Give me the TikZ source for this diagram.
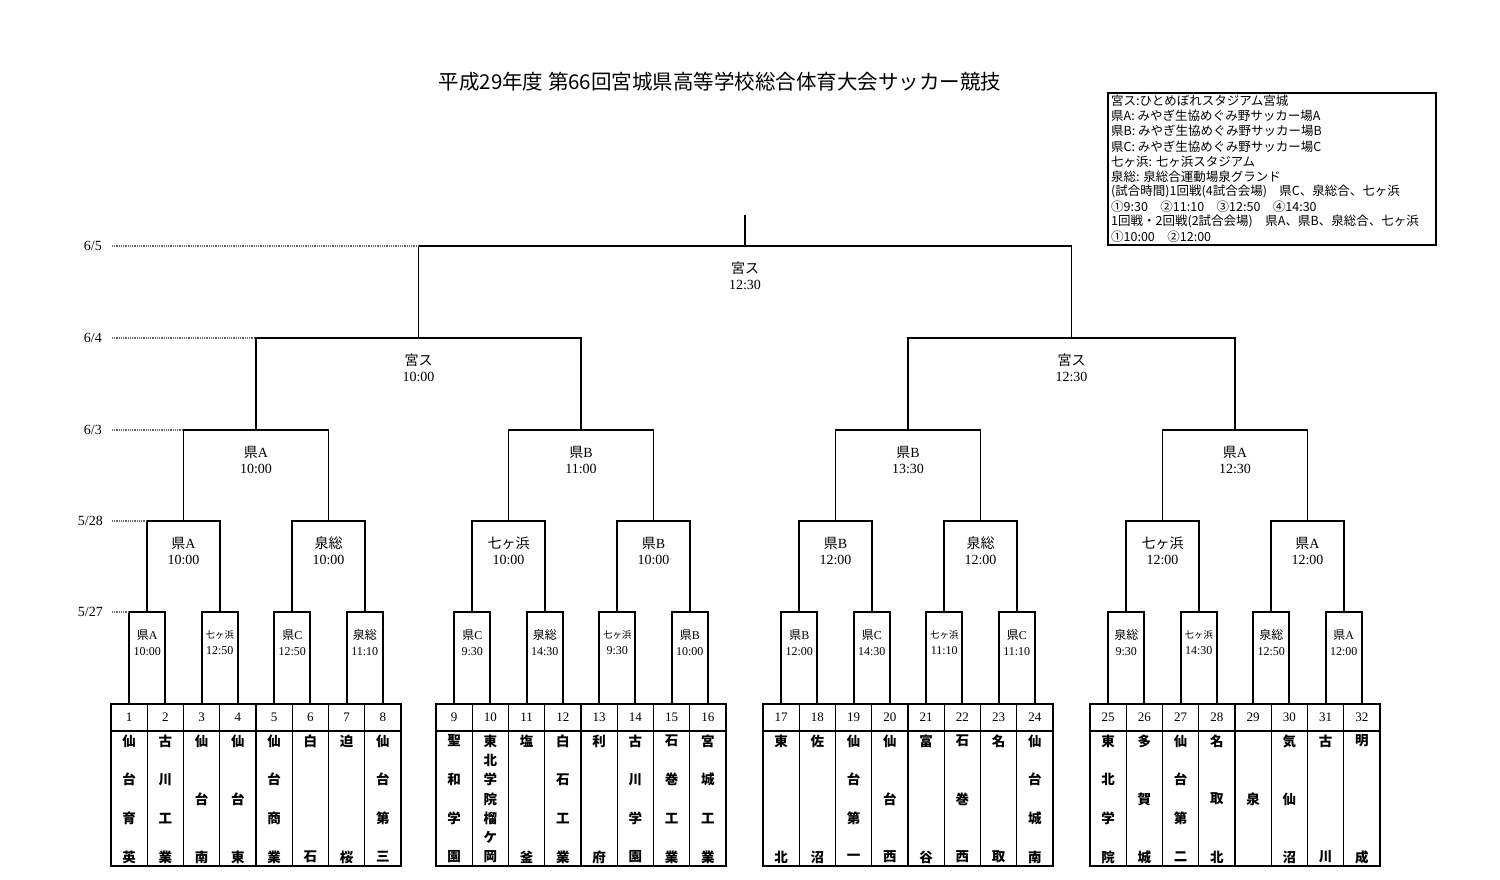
\documentclass[tikz,border=0pt]{standalone}
\usepackage{fontspec}
\usetikzlibrary{calc}
\setmainfont{Liberation Serif}
\newfontfamily\jp{Noto Sans CJK JP}
\newcommand\KA{{\jp 県}A}
\newcommand\KB{{\jp 県}B}
\newcommand\KC{{\jp 県}C}
\newcommand\IZ{{\jp 泉総}}
\newcommand\SHn{{\jp 七ヶ浜}}
\newcommand\SHs{{\jp\fontsize{9.5}{11}\selectfont 七ヶ浜}}
\newcommand\MS{{\jp 宮ス}}
\newcommand\teamcol[3]{%
  \pgfmathtruncatemacro\tg{(#1-1)/8}%
  \pgfmathtruncatemacro\tk{mod(#1-1,8)}%
  \pgfmathsetmacro\tx{{111,436,763,1090}[\tg]+(\tk+0.5)*36.25}%
  \coordinate (tt#1) at (\tx,704);
  \node[num] (n#1) at (\tx,717.5) {#1};
  \foreach \tchar [count=\j from 0] in {#3}{%
    \pgfmathsetmacro\ty{741+(#2==1)*58+\j*116/max(#2-1,1)}%
    \node[tm] (t#1-\j) at (\tx,\ty) {\tchar};}%
}
\begin{document}
\begin{tikzpicture}[x=1pt,y=-1pt,
  br/.style={line width=1.8pt, black},
  dl/.style={black!60, line width=1.3pt, dash pattern=on 0.9pt off 0.9pt},
  num/.style={inner sep=0pt, font=\fontsize{13}{14}\selectfont},
  tm/.style={inner sep=0pt, font=\jp\bfseries\fontsize{13.5}{14}\selectfont},
  lone/.style={inner sep=0pt, align=center, font=\fontsize{12}{16}\selectfont},
  ltwo/.style={inner sep=0pt, align=center, font=\fontsize{14}{16}\selectfont},
  datelab/.style={inner sep=0pt, anchor=east, font=\fontsize{14}{16}\selectfont},
  leg/.style={inner sep=0pt, anchor=west, font=\jp\fontsize{12.5}{14}\selectfont}]
\useasboundingbox (0,0) rectangle (1500,880);

% title
\node (title) at (720,82) {\jp\fontsize{20.5}{24}\selectfont 平成29年度 第66回宮城県高等学校総合体育大会サッカー競技};

% legend
\draw[line width=1.8pt] (1108,93) rectangle (1436,245);
\foreach \ltext [count=\r from 0] in {%
  宮ス:ひとめぼれスタジアム宮城,
  県A: みやぎ生協めぐみ野サッカー場A,
  県B: みやぎ生協めぐみ野サッカー場B,
  県C: みやぎ生協めぐみ野サッカー場C,
  七ヶ浜: 七ヶ浜スタジアム,
  泉総: 泉総合運動場泉グランド,
  (試合時間)1回戦(4試合会場)　県C、泉総合、七ヶ浜,
  ①9:30　②11:10　③12:50　④14:30,
  1回戦・2回戦(2試合会場)　県A、県B、泉総合、七ヶ浜,
  ①10:00　②12:00}
  \node[leg] (lg\r) at (1111,101+\r*15.1) {\ltext};

% team tables
\foreach \g in {0,...,3}{
  \pgfmathsetmacro\gx{{111,436,763,1090}[\g]}
  \draw[line width=1.8pt] (\gx,704) rectangle ++(290,162);
  \draw[line width=1.3pt] (\gx,731) -- ++(290,0);
  \foreach \k in {1,...,7} \draw[line width=1.3pt] (\gx+\k*36.25,704) -- ++(0,162);
}

\teamcol{1}{4}{仙,台,育,英}
\teamcol{2}{4}{古,川,工,業}
\teamcol{3}{3}{仙,台,南}
\teamcol{4}{3}{仙,台,東}
\teamcol{5}{4}{仙,台,商,業}
\teamcol{6}{2}{白,石}
\teamcol{7}{2}{迫,桜}
\teamcol{8}{4}{仙,台,第,三}
\teamcol{9}{4}{聖,和,学,園}
\teamcol{10}{7}{東,北,学,院,榴,ケ,岡}
\teamcol{11}{2}{塩,釜}
\teamcol{12}{4}{白,石,工,業}
\teamcol{13}{2}{利,府}
\teamcol{14}{4}{古,川,学,園}
\teamcol{15}{4}{石,巻,工,業}
\teamcol{16}{4}{宮,城,工,業}
\teamcol{17}{2}{東,北}
\teamcol{18}{2}{佐,沼}
\teamcol{19}{4}{仙,台,第,一}
\teamcol{20}{3}{仙,台,西}
\teamcol{21}{2}{富,谷}
\teamcol{22}{3}{石,巻,西}
\teamcol{23}{2}{名,取}
\teamcol{24}{4}{仙,台,城,南}
\teamcol{25}{4}{東,北,学,院}
\teamcol{26}{3}{多,賀,城}
\teamcol{27}{4}{仙,台,第,二}
\teamcol{28}{3}{名,取,北}
\teamcol{29}{1}{泉}
\teamcol{30}{3}{気,仙,沼}
\teamcol{31}{2}{古,川}
\teamcol{32}{2}{明,成}

% round 1
\foreach \j in {1,...,16}{
  \pgfmathtruncatemacro\a{2*\j-1}
  \pgfmathtruncatemacro\b{2*\j}
  \coordinate (m1-\j) at ($(tt\a)!0.5!(tt\b)+(0,-92)$);
  \draw[br] (tt\a) |- (m1-\j) -| (tt\b);
}
% round 2
\foreach \j in {1,...,8}{
  \pgfmathtruncatemacro\a{2*\j-1}
  \pgfmathtruncatemacro\b{2*\j}
  \coordinate (m2-\j) at ($(m1-\a)!0.5!(m1-\b)+(0,-91)$);
  \draw[br] (m1-\a) |- (m2-\j) -| (m1-\b);
}
% round 3
\foreach \j in {1,...,4}{
  \pgfmathtruncatemacro\a{2*\j-1}
  \pgfmathtruncatemacro\b{2*\j}
  \coordinate (m3-\j) at ($(m2-\a)!0.5!(m2-\b)+(0,-91)$);
  \draw[br] (m2-\a) |- (m3-\j) -| (m2-\b);
}
% round 4
\foreach \j in {1,2}{
  \pgfmathtruncatemacro\a{2*\j-1}
  \pgfmathtruncatemacro\b{2*\j}
  \coordinate (m4-\j) at ($(m3-\a)!0.5!(m3-\b)+(0,-92)$);
  \draw[br] (m3-\a) |- (m4-\j) -| (m3-\b);
}
% final
\coordinate (m5) at ($(m4-1)!0.5!(m4-2)+(0,-92)$);
\draw[br] (m4-1) |- (m5) -| (m4-2);
\coordinate (top) at ($(m5)+(0,-31)$);
\draw[br] (m5) -- (top);

% labels
\foreach \j/\where/\when in {1/\KA/10:00, 2/\SHs/12:50, 3/\KC/12:50, 4/\IZ/11:10,
  5/\KC/9:30, 6/\IZ/14:30, 7/\SHs/9:30, 8/\KB/10:00,
  9/\KB/12:00, 10/\KC/14:30, 11/\SHs/11:10, 12/\KC/11:10,
  13/\IZ/9:30, 14/\SHs/14:30, 15/\IZ/12:50, 16/\KA/12:00}
  \node[lone] (L1-\j) at ($(m1-\j)+(0,31)$) {\where\\\when};
\foreach \j/\where/\when in {1/\KA/10:00, 2/\IZ/10:00, 3/\SHn/10:00, 4/\KB/10:00,
  5/\KB/12:00, 6/\IZ/12:00, 7/\SHn/12:00, 8/\KA/12:00}
  \node[ltwo] (L2-\j) at ($(m2-\j)+(0,30)$) {\where\\\when};
\foreach \j/\where/\when in {1/\KA/10:00, 2/\KB/11:00, 3/\KB/13:30, 4/\KA/12:30}
  \node[ltwo] (L3-\j) at ($(m3-\j)+(0,30)$) {\where\\\when};
\foreach \j/\where/\when in {1/\MS/10:00, 2/\MS/12:30}
  \node[ltwo] (L4-\j) at ($(m4-\j)+(0,30)$) {\where\\\when};
\node[ltwo] (L5) at ($(m5)+(0,30)$) {\MS\\12:30};

% dates and dotted guides
\node[datelab] (d5) at (102,246) {6/5};
\node[datelab] (d4) at (102,338) {6/4};
\node[datelab] (d3) at (102,430) {6/3};
\node[datelab] (d2) at (103,521) {5/28};
\node[datelab] (d1) at (103,612) {5/27};
\coordinate (g5) at (112,246);
\coordinate (g4) at (112,338);
\coordinate (g3) at (112,430);
\coordinate (g2) at (112,521);
\coordinate (g1) at (112,612);
\draw[dl] (g5) -- (m4-1 |- m5);
\draw[dl] (g4) -- (m3-1 |- m4-1);
\draw[dl] (g3) -- (m2-1 |- m3-1);
\draw[dl] (g2) -- (m1-1 |- m2-1);
\draw[dl] (g1) -- (tt1 |- m1-1);
\end{tikzpicture}
\end{document}
